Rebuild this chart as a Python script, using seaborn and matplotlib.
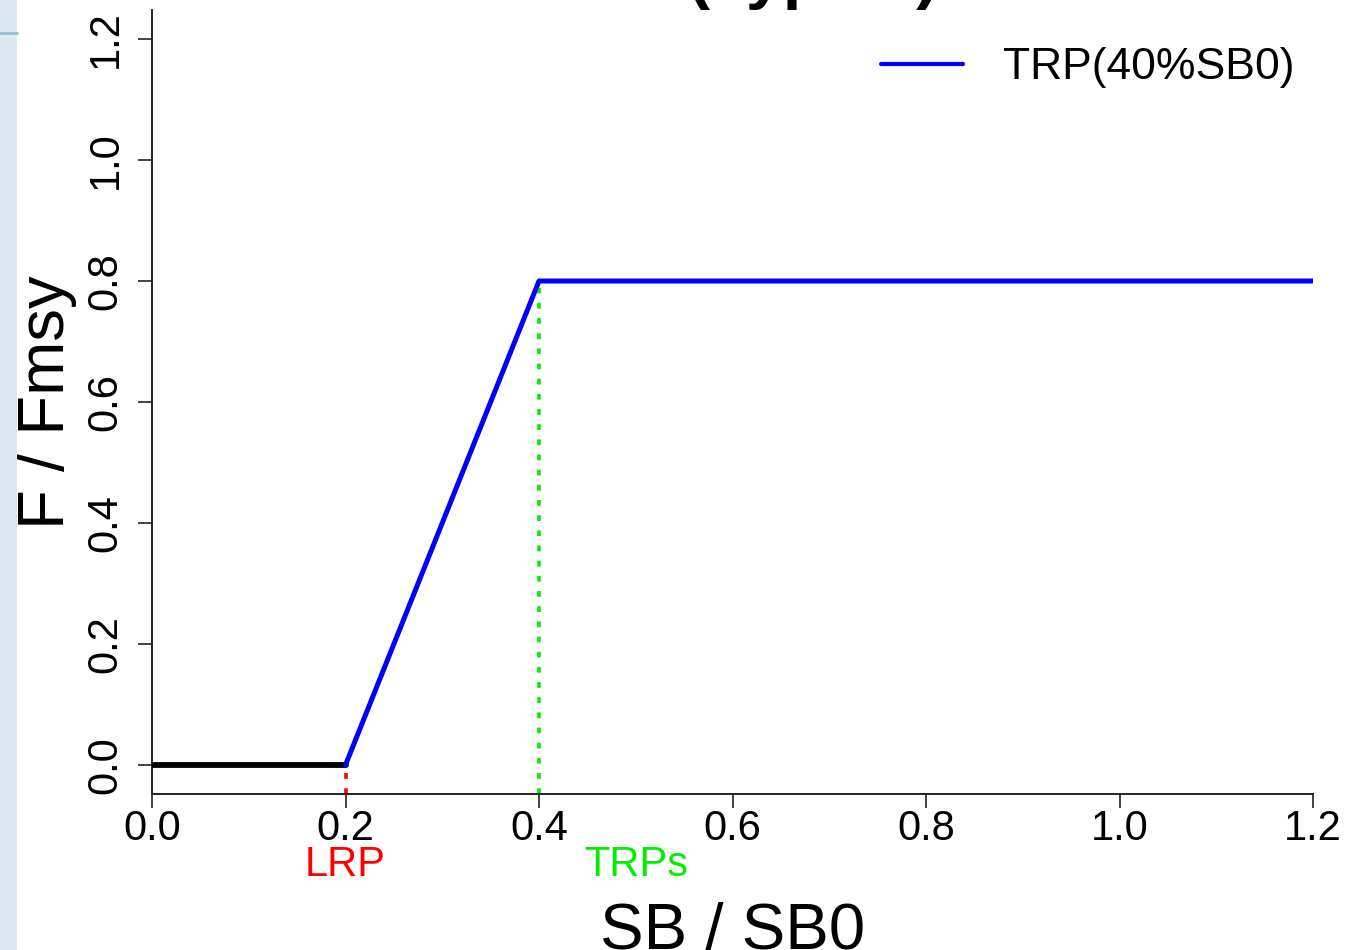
import numpy as np
import pandas as pd
import matplotlib
matplotlib.use("Agg")
import matplotlib.pyplot as plt
from matplotlib.patches import Rectangle
from matplotlib.lines import Line2D
import seaborn as sns

# harvest control rule
closed_x = [0.0, 0.2]
closed_y = [0.0, 0.0]
hcr_x = [0.2, 0.4, 1.2]
hcr_y = [0.0, 0.8, 0.8]
lrp = 0.2
trp = 0.4
f_target = 0.8
x_ticks = [0.0, 0.2, 0.4, 0.6, 0.8, 1.0, 1.2]
y_ticks = [0.0, 0.2, 0.4, 0.6, 0.8, 1.0, 1.2]

sns.set_style("ticks")
plt.rcParams["font.family"] = ["Liberation Sans", "DejaVu Sans"]
plt.rcParams["text.color"] = "black"
plt.rcParams["axes.labelcolor"] = "black"

fig = plt.figure(figsize=(13.52, 9.5), dpi=100)
ax = fig.add_axes([152 / 1352, 1 - 794 / 950, (1313 - 152) / 1352, (794 - 10) / 950])

# light blue strip on the left (screenshot background)
fig.patches.append(Rectangle((0, 0), 17 / 1352, 1, transform=fig.transFigure,
                             facecolor="#dde9f2", edgecolor="none", zorder=0))
fig.lines.append(Line2D([0, 17 / 1352], [1 - 33 / 950] * 2, transform=fig.transFigure,
                        color="#8fc3cf", lw=2))

ymin = -0.048
ax.plot([lrp, lrp], [ymin, 0], color="red", lw=2.6, dashes=(1.6, 2.6), zorder=2)
ax.plot([trp, trp], [ymin, f_target], color="#00ee00", lw=2.6, dashes=(1.6, 2.6), zorder=2)

sns.lineplot(x=closed_x, y=closed_y, ax=ax, color="black", lw=4.2, zorder=3)
sns.lineplot(x=hcr_x, y=hcr_y, ax=ax, color="blue", lw=3.6, zorder=4,
             label="TRP(40%SB0)")

ax.set_xlim(0, 1.2)
ax.set_ylim(ymin, 1.248)
ax.set_xticks(x_ticks)
ax.set_xticklabels([f"{v:.1f}" for v in x_ticks])
ax.set_yticks(y_ticks)
ax.set_yticklabels([f"{v:.1f}" for v in y_ticks], rotation=90, va="center")

for s in ["top", "right"]:
    ax.spines[s].set_visible(False)
for s in ["left", "bottom"]:
    ax.spines[s].set_color("#222222")
    ax.spines[s].set_linewidth(1.4)
ax.tick_params(axis="both", direction="out", length=10, width=1.2, color="#222222",
               labelsize=30, labelcolor="black", bottom=True, left=True)
ax.tick_params(axis="x", pad=1)
ax.tick_params(axis="y", pad=9)

ax.set_xlabel("SB / SB0", fontsize=47, labelpad=38, color="black")
ax.set_ylabel("F / Fmsy", fontsize=47, labelpad=6, color="black")

ax.text(lrp, -0.165, "LRP", color="red", fontsize=30, ha="center", va="center")
ax.text(0.5, -0.165, "TRPs", color="#00ee00", fontsize=30, ha="center", va="center")

leg = ax.legend(loc="upper right", frameon=False, fontsize=32, handlelength=1.85,
                handletextpad=0.9, borderaxespad=0.3, bbox_to_anchor=(1.011, 0.992))
for h in leg.get_lines():
    h.set_linewidth(3.0)
for t in leg.get_texts():
    t.set_color("black")

fig.text(732 / 1352, 1 + 4 / 950, "HCR (Type 1)", fontsize=48, fontweight="bold",
         ha="center", va="baseline")

fig.savefig("out.png", dpi=100)
